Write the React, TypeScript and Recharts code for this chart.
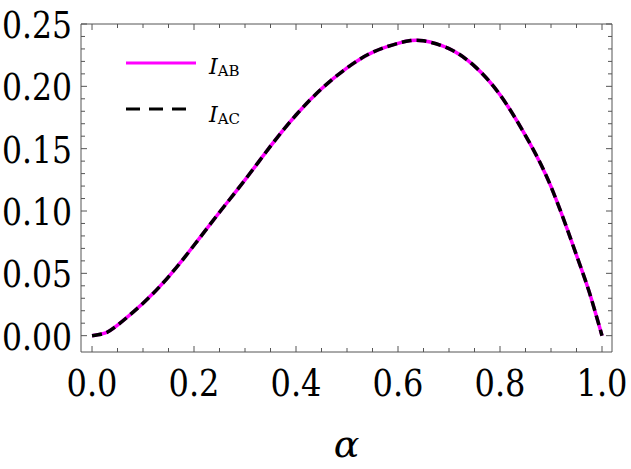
import { LineChart, Line, XAxis, YAxis } from 'recharts';

// alpha samples and the two curves (they coincide)
const alphaValues = [
  0, 0.025, 0.05, 0.1, 0.15, 0.2, 0.25, 0.3, 0.35, 0.4, 0.45, 0.5, 0.55,
  0.6, 0.625, 0.65, 0.7, 0.75, 0.8, 0.85, 0.9, 0.95, 0.975, 1.0,
];
const iabValues = [
  0, 0.002, 0.0084, 0.026, 0.0472, 0.0725, 0.099, 0.125, 0.152, 0.177, 0.198,
  0.2148, 0.2273, 0.2345, 0.2367, 0.2365, 0.2302, 0.2162, 0.1932, 0.1605, 0.1195,
  0.0645, 0.035, 0,
];
const iacValues = [
  0, 0.002, 0.0084, 0.026, 0.0472, 0.0725, 0.099, 0.125, 0.152, 0.177, 0.198,
  0.2148, 0.2273, 0.2345, 0.2367, 0.2365, 0.2302, 0.2162, 0.1932, 0.1605, 0.1195,
  0.0645, 0.035, 0,
];

const seriesNames = ['AB', 'AC'];

const xTicks = [
  0, 0.05, 0.1, 0.15, 0.2, 0.25, 0.3, 0.35, 0.4, 0.45, 0.5, 0.55, 0.6, 0.65,
  0.7, 0.75, 0.8, 0.85, 0.9, 0.95, 1.0,
];
const xMajor = [0, 0.2, 0.4, 0.6, 0.8, 1.0];
const yTicks = [
  0, 0.01, 0.02, 0.03, 0.04, 0.05, 0.06, 0.07, 0.08, 0.09, 0.1, 0.11, 0.12,
  0.13, 0.14, 0.15, 0.16, 0.17, 0.18, 0.19, 0.2, 0.21, 0.22, 0.23, 0.24, 0.25,
];
const yMajor = [0, 0.05, 0.1, 0.15, 0.2, 0.25];

const data = alphaValues.map((a, i) => ({ alpha: a, iab: iabValues[i], iac: iacValues[i] }));

const SERIF = '"DejaVu Serif", serif';
const FRAME = '#555555';
const MAGENTA = '#ff00ff';

const isMajor = (v: number, majors: number[]) => majors.some((m) => Math.abs(m - v) < 1e-9);

const labelStyle = { fontFamily: SERIF, fontSize: 38, fill: '#000' };

function BottomTick({ x, y, payload }: any) {
  const major = isMajor(payload.value, xMajor);
  return (
    <g>
      <line x1={x} x2={x} y1={y} y2={y - (major ? 6 : 4)} stroke={FRAME} />
      {major && (
        <text
          x={x}
          y={y + 44}
          textAnchor="middle"
          textLength={51}
          lengthAdjust="spacingAndGlyphs"
          style={labelStyle}
        >
          {payload.value.toFixed(1)}
        </text>
      )}
    </g>
  );
}

function TopTick({ x, y, payload }: any) {
  const major = isMajor(payload.value, xMajor);
  return <line x1={x} x2={x} y1={y} y2={y + (major ? 6 : 4)} stroke={FRAME} />;
}

function LeftTick({ x, y, payload }: any) {
  const major = isMajor(payload.value, yMajor);
  return (
    <g>
      <line x1={x} x2={x + (major ? 6 : 4)} y1={y} y2={y} stroke={FRAME} />
      {major && (
        <text
          x={x - 9}
          y={y + 14}
          textAnchor="end"
          textLength={70}
          lengthAdjust="spacingAndGlyphs"
          style={labelStyle}
        >
          {payload.value.toFixed(2)}
        </text>
      )}
    </g>
  );
}

function RightTick({ x, y, payload }: any) {
  const major = isMajor(payload.value, yMajor);
  return <line x1={x} x2={x - (major ? 6 : 4)} y1={y} y2={y} stroke={FRAME} />;
}

function LegendOverlay() {
  const styles = [
    { stroke: MAGENTA, dash: undefined, x2: 196 },
    { stroke: '#000', dash: '14 9', x2: 190 },
  ];
  return (
    <svg
      width={631}
      height={469}
      style={{ position: 'absolute', left: 0, top: 0, pointerEvents: 'none' }}
    >
      {seriesNames.map((name, i) => (
        <g key={name}>
          <line
            x1={126}
            x2={styles[i].x2}
            y1={63 + i * 46}
            y2={63 + i * 46}
            stroke={styles[i].stroke}
            strokeWidth={3}
            strokeDasharray={styles[i].dash}
          />
          <text x={209} y={74 + i * 48} style={{ fontFamily: SERIF, fontSize: 22, fill: '#000' }}>
            <tspan fontStyle="italic">I</tspan>
            <tspan fontSize={15} dy={2}>{name}</tspan>
          </text>
        </g>
      ))}
    </svg>
  );
}

export default function App() {
  return (
    <div style={{ position: 'relative', width: 631, height: 469, background: '#fff', fontFamily: SERIF }}>
      <style>{'body{margin:0}'}</style>
      <LineChart
        width={631}
        height={469}
        data={data}
        margin={{ top: 23, right: 18, bottom: 0, left: 0 }}
        style={{ fontFamily: SERIF }}
      >
        <XAxis
          dataKey="alpha"
          type="number"
          domain={[-0.0216, 1.0196]}
          allowDataOverflow
          ticks={xTicks}
          interval={0}
          tick={<BottomTick />}
          tickLine={false}
          tickSize={0}
          tickMargin={0}
          height={117}
          axisLine={{ stroke: FRAME }}
          label={{
            value: 'α',
            position: 'insideBottom',
            offset: 12,
            style: { fontFamily: SERIF, fontStyle: 'italic', fontSize: 38, fill: '#000' },
          }}
        />
        <XAxis
          xAxisId="top"
          orientation="top"
          dataKey="alpha"
          type="number"
          domain={[-0.0216, 1.0196]}
          allowDataOverflow
          ticks={xTicks}
          interval={0}
          tick={<TopTick />}
          tickLine={false}
          tickSize={0}
          tickMargin={0}
          height={1}
          axisLine={{ stroke: FRAME }}
        />
        <YAxis
          type="number"
          domain={[-0.0131, 0.25]}
          allowDataOverflow
          ticks={yTicks}
          interval={0}
          tick={<LeftTick />}
          tickLine={false}
          tickSize={0}
          tickMargin={0}
          width={81}
          axisLine={{ stroke: FRAME }}
        />
        <YAxis
          yAxisId="right"
          orientation="right"
          type="number"
          domain={[-0.0131, 0.25]}
          allowDataOverflow
          ticks={yTicks}
          interval={0}
          tick={<RightTick />}
          tickLine={false}
          tickSize={0}
          tickMargin={0}
          width={1}
          axisLine={{ stroke: FRAME }}
        />
        <Line
          type="natural"
          dataKey="iab"
          stroke={MAGENTA}
          strokeWidth={3.5}
          dot={false}
          isAnimationActive={false}
        />
        <Line
          type="natural"
          dataKey="iac"
          stroke="#000"
          strokeWidth={3.5}
          strokeDasharray="10 5"
          dot={false}
          isAnimationActive={false}
        />
      </LineChart>
      <LegendOverlay />
    </div>
  );
}
